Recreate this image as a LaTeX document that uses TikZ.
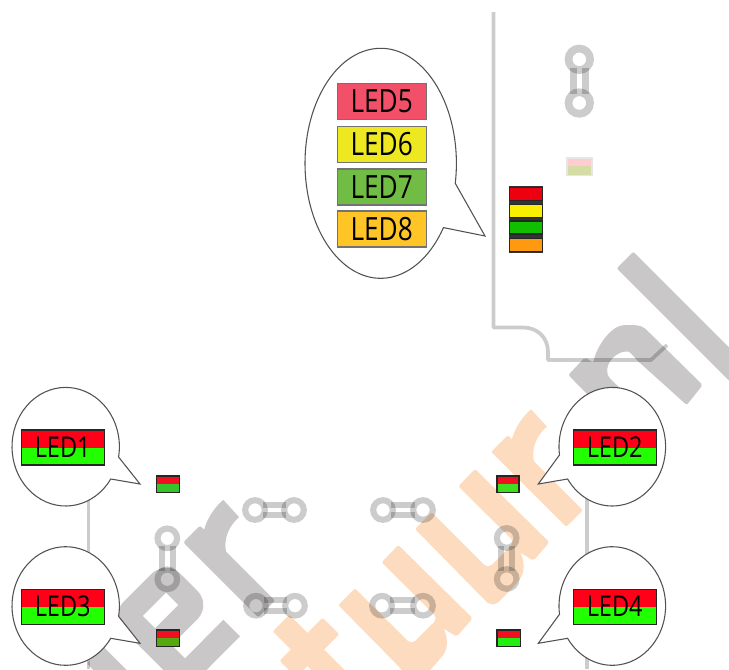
\documentclass[tikz,border=0pt]{standalone}
\usepackage{fontspec}
\newfontfamily\lblfont[FakeStretch=0.82]{Open Sans}
\definecolor{wmgray}{HTML}{C9C7C8}
\definecolor{wmorange}{HTML}{FDDBBF}
\definecolor{ledred}{HTML}{FF0018}
\definecolor{ledgreen}{HTML}{22FF00}
\definecolor{smallred}{HTML}{F01020}
\definecolor{greenA}{HTML}{35C42A}
\definecolor{greenB}{HTML}{55A810}
\definecolor{greenC}{HTML}{40DD20}
\definecolor{greenD}{HTML}{22EE11}
\definecolor{stackred}{HTML}{EE0010}
\definecolor{stackyellow}{HTML}{F8F000}
\definecolor{stackgreen}{HTML}{10C000}
\definecolor{stackorange}{HTML}{FF9910}
\definecolor{lblfive}{HTML}{F25068}
\definecolor{lblsix}{HTML}{EEE820}
\definecolor{lblseven}{HTML}{70BC44}
\definecolor{lbleight}{HTML}{FFC425}
\definecolor{faintframe}{HTML}{E6E6E6}
\definecolor{faintpink}{HTML}{FFCCD0}
\definecolor{faintolive}{HTML}{D5DCA5}
\tikzset{
  wm/.style={line width=17.6pt,line cap=butt,line join=round},
  wmg/.style={wm,draw=wmgray},
  board/.style={draw=black,opacity=.2,line width=2.8pt,line join=round},
  viaring/.style={draw=black,opacity=.2,line width=4.6pt,fill=none},
  viabar/.style={draw=black,opacity=.2,line width=4.4pt},
  viaringtop/.style={viaring,line width=5.8pt},
  viabartop/.style={viabar,line width=5.4pt},
  bubble/.style={draw=black!68,fill=white,line width=.8pt,line join=miter},
  lbl/.style={draw=black!85,line width=.8pt,inner sep=0pt,font=\lblfont\fontsize{21.5}{22}\selectfont,text=black,minimum width=62.5pt,minimum height=26.25pt},
  toplbl/.style={lbl,draw=black!55,font=\lblfont\fontsize{24}{24}\selectfont,minimum width=66.5pt,minimum height=27pt},
  duo/.style={lbl,fill=ledred,path picture={\fill[ledgreen] (path picture bounding box.west) rectangle (path picture bounding box.south east);}},
  ledbox/.style={draw=black!85,line width=1.2pt},
  ledframe/.style={draw=black!85,line width=1.2pt,fill=none},
}
\newcommand{\hvia}[3]{%
  \draw[viaring] (#1,#3) circle[radius=9.8];
  \draw[viaring] (#2,#3) circle[radius=9.8];
  \draw[viabar] (#1+8,#3-5.4) -- (#2-8,#3-5.4);
  \draw[viabar] (#1+8,#3+5.4) -- (#2-8,#3+5.4);
}
\newcommand{\vvia}[3]{%
  \draw[viaring] (#1,#2) circle[radius=9.8];
  \draw[viaring] (#1,#3) circle[radius=9.8];
  \draw[viabar] (#1-5.4,#2+8) -- (#1-5.4,#3-8);
  \draw[viabar] (#1+5.4,#2+8) -- (#1+5.4,#3-8);
}
\newcommand{\wmbar}[5]{\fill[#5,rounded corners=1.5pt] (#1-8.35,#2+8.35) -- (#1+8.35,#2-8.35) -- (#3+8.35,#4-8.35) -- (#3-8.35,#4+8.35) -- cycle;}
\newcommand{\wmcross}[5]{\fill[#5,rounded corners=1.5pt] (#1-8.35,#2-8.35) -- (#1+8.35,#2+8.35) -- (#3+8.35,#4+8.35) -- (#3-8.35,#4-8.35) -- cycle;}
\newcommand{\wmu}[3]{\begin{scope}[shift={(#1,#2)}]
  \fill[#3,rounded corners=1.5pt] (338.3,605) -- (355,588.3) [rounded corners=4pt] -- (411.4,644.6) -- (438,618.3) [rounded corners=1.5pt] -- (381.7,562.3) -- (398.3,545) -- (472.7,618.3) -- (456.7,636.7) -- (443.3,628.3) .. controls (447,635) and (449,648) .. (441.7,656.7) .. controls (436,664) and (428,672) .. (420,680) -- (412,680) -- cycle;
\end{scope}}
\newcommand{\wmr}[3]{%
  \wmbar{#1}{#2}{#1+75}{#2+75}{#3}
  \begin{scope}[shift={(#1,#2)}]
  \draw[wm,draw=#3] (24,24) .. controls (18,5) and (26,-14) .. (39.5,-25.5);
\end{scope}}
\begin{document}
\begin{tikzpicture}[x=.75pt,y=-.75pt]
\useasboundingbox (0,0) rectangle (729,669);
\clip (0,0) rectangle (729,669);
% watermark
\wmbar{95}{655}{125}{685}{wmgray}
\draw[wmg,rounded corners=6pt] (166,576) -- (195,605) -- (155,645) -- (126,616) -- cycle;
\draw[wmg,rounded corners=6pt] (126,616) -- (185,675) -- (231.7,628);
\wmr{191.7}{534}{wmgray}
\wmbar{281}{623}{345}{687}{wmorange}
\wmcross{331}{626}{288}{669}{wmorange}
\wmu{0}{0}{wmorange}
\wmu{76.7}{-76}{wmorange}
\wmr{499.5}{443.5}{wmorange}
\fill[wmgray,rounded corners=1.5pt] (568.3,375) -- (585,357.3) -- (593.3,362.7) .. controls (597,345) and (612,325) .. (626.7,325) .. controls (635,325) and (641,325) .. (646.7,330) -- (702.7,385) -- (686.7,405) -- (636.7,360) .. controls (632,354) and (629,351.7) .. (626.7,351.7) .. controls (618,351.7) and (604,362) .. (608.3,376.7) -- (630,398) -- (605,412) -- cycle;
\wmbar{625}{260}{745}{380}{wmgray}
% board outline
\draw[board] (493.5,12) -- (493.5,327.5) -- (523,327.5) .. controls (538,327.5) and (548,338) .. (548,352) -- (548,360) -- (651,360) -- (667,345);
\draw[board] (88.5,495) -- (88.5,669);
\draw[board] (587,495) -- (587,669);
% vias
\draw[viaringtop] (579.3,59.3) circle[radius=10.8];
\draw[viaringtop] (579.3,103) circle[radius=10.8];
\draw[viabartop] (573.4,68) -- (573.4,94.3);
\draw[viabartop] (585.2,68) -- (585.2,94.3);
\vvia{167.3}{538.3}{579.3}
\vvia{506.7}{538}{579}
\hvia{255}{294}{510}
\hvia{383}{423}{510}
\hvia{256}{295}{605.7}
\hvia{382}{423}{605.7}
% faint LED
\fill[faintframe] (566,156.5) rectangle (592.5,176);
\fill[faintpink] (568,158.5) rectangle (591,166);
\fill[faintolive] (568,166) rectangle (591,174.5);
% LED stack
\fill[black!80] (508.5,186) rectangle (543,252.5);
\draw[ledbox,fill=stackred] (509.5,187.5) rectangle (542.5,200.5);
\draw[ledbox,fill=stackyellow] (509.5,204.5) rectangle (542.5,217.5);
\draw[ledbox,fill=stackgreen] (509.5,221) rectangle (542.5,234);
\draw[ledbox,fill=stackorange] (509.5,238.5) rectangle (542.5,251.5);
% small LEDs
\fill[smallred] (156.5,476) rectangle (179.5,484);
\fill[greenA] (156.5,484) rectangle (179.5,492.5);
\draw[ledframe] (156.5,476) rectangle (179.5,492.5);
\fill[smallred] (156.5,630) rectangle (179.5,638);
\fill[greenB] (156.5,638) rectangle (179.5,646.5);
\draw[ledframe] (156.5,630) rectangle (179.5,646.5);
\fill[smallred] (497,476) rectangle (519,484);
\fill[greenC] (497,484) rectangle (519,492.5);
\draw[ledframe] (497,476) rectangle (519,492.5);
\fill[smallred] (497,630) rectangle (520.5,638);
\fill[greenD] (497,638) rectangle (520.5,646.5);
\draw[ledframe] (497,630) rectangle (520.5,646.5);
% bubbles
\draw[bubble] (380.7,163.3) ++(34:75.7 and 115) arc[start angle=34,end angle=370,x radius=75.7,y radius=115] -- (485,236) -- cycle;
\draw[bubble] (65.7,446.7) ++(33:53.7 and 59.3) arc[start angle=33,end angle=370,x radius=53.7,y radius=59.3] -- (140,484) -- cycle;
\draw[bubble] (65.7,606) ++(33:53.7 and 59.3) arc[start angle=33,end angle=370,x radius=53.7,y radius=59.3] -- (140,643.3) -- cycle;
\draw[bubble] (612.3,446.7) ++(172:53.3 and 59.3) arc[start angle=172,end angle=507,x radius=53.3,y radius=59.3] -- (538.3,484) -- cycle;
\draw[bubble] (612.3,606) ++(172:53.3 and 59.3) arc[start angle=172,end angle=507,x radius=53.3,y radius=59.3] -- (538.3,643.3) -- cycle;
% labels
\node[toplbl,fill=lblfive] (led5) at (381.7,101.3) {LED5};
\node[toplbl,fill=lblsix] (led6) at (381.7,144.2) {LED6};
\node[toplbl,fill=lblseven] (led7) at (381.7,187) {LED7};
\node[toplbl,fill=lbleight] (led8) at (381.7,229) {LED8};
\node[duo] (led1) at (62.7,447.5) {LED1};
\node[duo] (led2) at (614.7,447.5) {LED2};
\node[duo] (led3) at (62.7,606.7) {LED3};
\node[duo] (led4) at (614.7,606.7) {LED4};
\end{tikzpicture}
\end{document}
